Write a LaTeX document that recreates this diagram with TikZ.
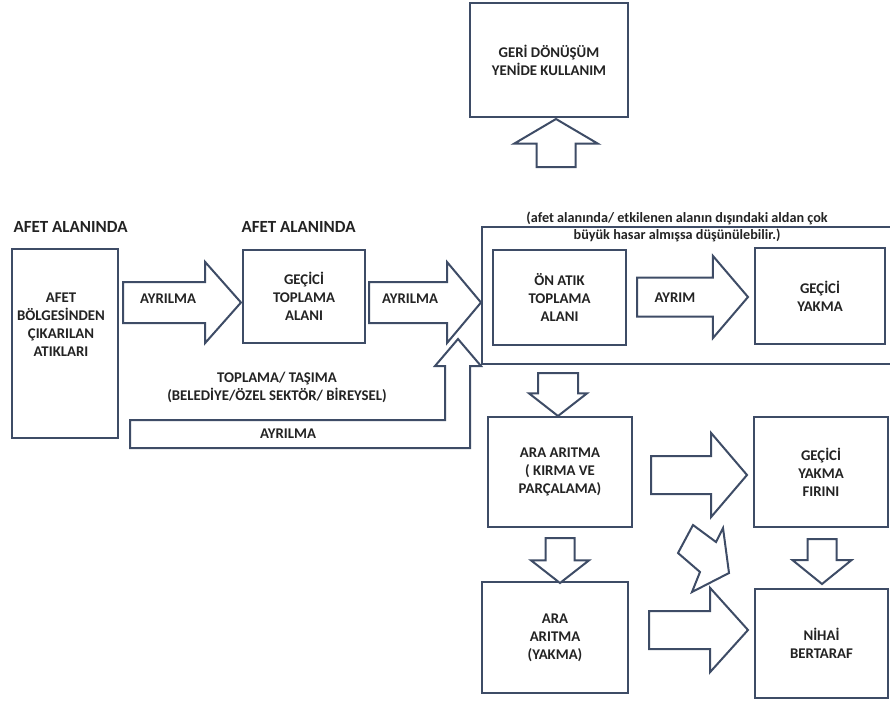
\documentclass[tikz,border=0pt]{standalone}
\usepackage{fontspec}
\setmainfont{Carlito}
\usetikzlibrary{shapes.arrows, positioning}
\definecolor{linec}{RGB}{62,76,102}
\definecolor{textc}{RGB}{35,35,35}

\begin{document}
\begin{tikzpicture}[x=1pt, y=-1pt,
    box/.style={draw=linec, line width=2pt, fill=white, inner sep=2pt},
    txt/.style={font=\fontsize{14.8}{18}\selectfont\bfseries, align=center, text=textc},
    head/.style={font=\fontsize{17}{20}\selectfont\bfseries, text=textc, anchor=west},
    note/.style={font=\fontsize{14.2}{16.5}\selectfont\bfseries, align=center, text=textc},
    fat/.style={single arrow, draw=linec, line width=2pt, fill=white,
        single arrow head indent=0pt, inner sep=0pt, text height=9pt, text depth=0pt,
        anchor=tail},
    outline/.style={draw=linec, line width=2pt, line join=miter}
]
\useasboundingbox (0,0) rectangle (890,704);

% titles
\node[head] (t1) at (10,227) {AFET ALANINDA};
\node[head] (t2) at (238,227) {AFET ALANINDA};

% outer frame (open to the right)
\draw[outline] (890,227) -- (482,227) -- (482,364) -- (890,364);
\node[note] (cap) at (677,227) {(afet alanında/ etkilenen alanın dışındaki aldan çok\\büyük hasar almışsa düşünülebilir.)};

% boxes
\node[box, minimum width=106pt, minimum height=189pt] (src) at (65,343.5) {};
\node[txt] (srctxt) at (61,325) {AFET\\BÖLGESİNDEN\\ÇIKARILAN\\ATIKLARI};
\node[box, txt, minimum width=122pt, minimum height=93pt] (tmp) at (304,296.5) {GEÇİCİ\\TOPLAMA\\ALANI};
\node[box, txt, minimum width=133pt, minimum height=95pt] (pre) at (559.5,297.5) {ÖN ATIK\\TOPLAMA\\ALANI};
\node[box, txt, minimum width=130pt, minimum height=96pt] (yak) at (820,296) {GEÇİCİ\\YAKMA};
\node[box, txt, minimum width=158pt, minimum height=114pt] (geri) at (549,60) {GERİ DÖNÜŞÜM\\YENİDE KULLANIM};
\node[box, txt, minimum width=144pt, minimum height=110pt] (kir) at (560,472) {ARA ARITMA\\( KIRMA VE\\PARÇALAMA)};
\node[box, txt, minimum width=134pt, minimum height=110pt] (fir) at (821,472) {GEÇİCİ\\YAKMA\\FIRINI};
\node[box, txt, minimum width=146pt, minimum height=111pt] (ara) at (555,637.5) {ARA\\ARITMA\\(YAKMA)};
\node[box, txt, minimum width=133pt, minimum height=109pt] (nih) at (821.5,643.5) {NİHAİ\\BERTARAF};

% block arrows
\node[fat, minimum height=118pt, inner ysep=15pt, single arrow head extend=20pt,
    single arrow tip angle=97] (ar1) at (122,302.5) {};
\node[fat, minimum height=112pt, inner ysep=15pt, single arrow head extend=20pt,
    single arrow tip angle=100] (ar2) at (368,302.5) {};
\node[fat, minimum height=111pt, inner ysep=14pt, single arrow head extend=21.5pt,
    single arrow tip angle=99] (ar3) at (636,297) {};
\node[fat, minimum height=96pt, inner ysep=13.5pt, single arrow head extend=23pt,
    single arrow tip angle=99] (ar4) at (650,475) {};
\node[fat, minimum height=99pt, inner ysep=13.5pt, single arrow head extend=23pt,
    single arrow tip angle=96] (ar5) at (648,630) {};
\node[fat, rotate=90, minimum height=48pt, inner ysep=14pt, single arrow head extend=22.5pt,
    single arrow tip angle=119] (up) at (556,168) {};
\node[fat, rotate=-90, minimum height=43pt, inner ysep=14.5pt, single arrow head extend=9pt,
    single arrow tip angle=104] (dn1) at (558,372) {};
\node[fat, rotate=-90, minimum height=45pt, inner ysep=9pt, single arrow head extend=14.5pt,
    single arrow tip angle=104] (dn2) at (560,537) {};
\node[fat, rotate=-90, minimum height=45pt, inner ysep=9pt, single arrow head extend=15pt,
    single arrow tip angle=102] (dn3) at (822,538) {};
\node[txt] (ar1lbl) at (168,299) {AYRILMA};
\node[txt] (ar2lbl) at (410,299) {AYRILMA};
\node[txt] (ar3lbl) at (675,298) {AYRIM};

% slanted arrow towards the final box
\draw[outline, fill=white] (693,525) -- (716,542) -- (723,528) -- (729,573)
    -- (692,592) -- (700,572) -- (678,553) -- cycle;

% bent arrow under the collection box
\draw[outline, fill=white] (130,420) -- (445,420) -- (445,366) -- (435,366) -- (458,339)
    -- (481,366) -- (470,366) -- (470,448) -- (130,448) -- cycle;
\node[txt] (bentlbl) at (288,434) {AYRILMA};
\node[txt] (carry) at (277,387) {TOPLAMA/ TAŞIMA\\(BELEDİYE/ÖZEL SEKTÖR/ BİREYSEL)};
\end{tikzpicture}
\end{document}
